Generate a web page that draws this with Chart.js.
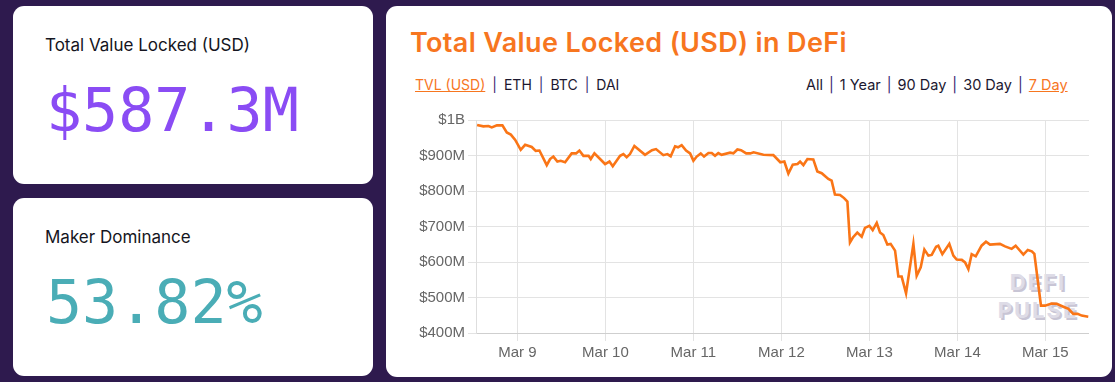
<!DOCTYPE html>
<html>
<head>
<meta charset="utf-8">
<script src="https://cdn.jsdelivr.net/npm/chart.js@4.4.1/dist/chart.umd.min.js"></script>
<style>
  html, body { margin:0; padding:0; }
  body { width:1115px; height:382px; background:#2e1a4e; position:relative; overflow:hidden; font-family: Inter, "Open Sans", sans-serif; }
  .card { position:absolute; background:#fff; border-radius:11px; }
  .lbl { position:absolute; left:32px; font-size:17px; color:#151521; white-space:nowrap; }
  .big { position:absolute; left:33px; font-family:"DejaVu Sans Mono", monospace; font-size:60px; white-space:nowrap; line-height:1; }
  #title { position:absolute; left:24px; top:20px; font-size:27px; font-weight:600; color:#f7761f; white-space:nowrap; letter-spacing:0.35px; }
  .row { position:absolute; top:70px; font-size:14px; color:#1c1830; white-space:nowrap; }
  .row .on { color:#f7761f; text-decoration:underline; }
  .row .sep { color:#3a2670; margin:0 7px; }
  #wm { position:absolute; left:606px; top:262px; width:92px; text-align:center; font-family:Inter, sans-serif; font-weight:700; font-size:22px; line-height:28px; letter-spacing:2px; color:#dedce7; text-shadow: 2px 2px 0 #c8c5d5; }
  #cwrap { position:absolute; left:14px; top:102px; width:689px; height:257px; }
</style>
</head>
<body>
<div class="card" style="left:13px; top:6px; width:360px; height:178px;">
  <div class="lbl" style="top:29px;">Total Value Locked (USD)</div>
  <div class="big" style="top:74px; color:#8a4cf4;">$587.3M</div>
</div>
<div class="card" style="left:13px; top:198px; width:360px; height:178px;">
  <div class="lbl" style="top:29px;">Maker Dominance</div>
  <div class="big" style="top:74px; color:#4aadb6;">53.82%</div>
</div>
<div class="card" style="left:386px; top:6px; width:726px; height:371px;">
  <div id="title">Total Value Locked (USD) in DeFi</div>
  <div class="row" style="left:29px;"><span class="on">TVL (USD)</span><span class="sep">|</span>ETH<span class="sep">|</span>BTC<span class="sep">|</span>DAI</div>
  <div class="row" style="left:420px; font-size:14.5px; letter-spacing:0px;">All<span class="sep" style="margin:0 6px;">|</span>1 Year<span class="sep" style="margin:0 6px;">|</span>90 Day<span class="sep" style="margin:0 6px;">|</span>30 Day<span class="sep" style="margin:0 6px;">|</span><span class="on">7 Day</span></div>
  <div id="wm">DEFI<br>PULSE</div>
  <div id="cwrap"><canvas id="c"></canvas></div>
</div>
<script>
// hours since Mar 8 00:00
const hours = [13.0,14.7,16.1,17.0,18.4,19.9,21.1,22.2,23.4,24.9,26.1,27.9,29.0,30.0,32.0,32.9,33.8,34.9,35.8,37.0,38.8,40.0,40.9,42.0,43.4,44.0,45.0,47.9,49.1,50.0,52.0,52.9,53.8,54.7,55.9,58.8,60.7,61.8,63.8,64.9,65.8,67.0,67.8,68.8,70.0,71.1,72.0,72.9,74.0,74.9,76.1,77.0,77.9,78.8,79.7,82.0,82.9,84.0,85.0,86.4,87.5,88.4,91.1,93.8,95.7,96.8,97.9,99.1,100.4,101.1,102.0,103.1,104.7,105.8,107.0,108.8,109.7,110.6,112.0,113.1,114.0,114.7,115.5,116.7,117.9,118.8,120.0,120.9,122.0,122.9,123.8,124.9,125.8,127.0,127.9,128.8,130.0,132.0,132.9,134.0,135.0,136.1,137.0,138.2,138.8,139.9,141.8,142.9,143.8,145.2,146.1,147.0,147.9,149.0,150.6,151.8,152.9,155.6,157.0,158.8,159.9,162.0,163.2,164.3,165.0,166.8,167.9,169.7,171.1,172.9,174.3,175.6,176.8,177.9,179.7];
const tvlMillions = [986,982,983,979,985,985,965,959,944,916,930,924,913,914,873,890,897,883,885,881,906,906,914,899,899,890,906,876,883,870,899,904,895,904,927,902,915,918,901,904,898,926,923,929,914,906,885,897,906,897,907,907,899,907,902,908,906,917,915,906,906,909,902,901,881,883,849,874,876,883,873,890,889,855,850,834,829,790,789,780,770,655,669,683,671,696,702,690,710,683,676,649,651,632,559,559,512,651,561,585,635,618,620,643,646,622,651,618,607,606,599,580,622,616,646,657,649,651,644,637,646,621,634,630,623,477,477,483,482,474,468,454,454,449,446];
const dayTicks = [24,48,72,96,120,144,168];
const dayLabels = ["Mar 9","Mar 10","Mar 11","Mar 12","Mar 13","Mar 14","Mar 15"];
const yTicks = [400,500,600,700,800,900,1000];
const yLabels = ["$400M","$500M","$600M","$700M","$800M","$900M","$1B"];

const pts = hours.map((h,i)=>({x:h, y:tvlMillions[i]}));
new Chart(document.getElementById('c'), {
  type:'line',
  data:{ datasets:[{ data:pts, borderColor:'#fa7516', borderWidth:2.6, pointRadius:0, tension:0, fill:false }] },
  options:{
    responsive:true, maintainAspectRatio:false, animation:false,
    layout:{ padding:{ top:0, right:0, bottom:0, left:0 } },
    plugins:{ legend:{display:false}, tooltip:{enabled:false} },
    scales:{
      x:{ type:'linear', min:12.7, max:179.9,
        afterBuildTicks:(s)=>{ s.ticks = dayTicks.map(v=>({value:v})); },
        ticks:{ callback:(v)=>{ const i=dayTicks.indexOf(v); return i>=0?dayLabels[i]:''; }, color:'#666', font:{family:'"Liberation Sans", Arial, sans-serif', size:15}, maxRotation:0, autoSkip:false },
        grid:{ color:'#e3e3e3', tickLength:8 }, border:{ color:'#cfcfcf' } },
      y:{ min:400, max:1000,
        afterBuildTicks:(s)=>{ s.ticks = yTicks.map(v=>({value:v})); },
        afterFit:(s)=>{ s.width = 76; },
        ticks:{ callback:(v)=>{ const i=yTicks.indexOf(v); return i>=0?yLabels[i]:''; }, color:'#666', font:{family:'"Liberation Sans", Arial, sans-serif', size:15} },
        grid:{ color:'#e3e3e3', tickLength:8 }, border:{ color:'#dedede' } }
    }
  }
});
</script>
</body>
</html>
